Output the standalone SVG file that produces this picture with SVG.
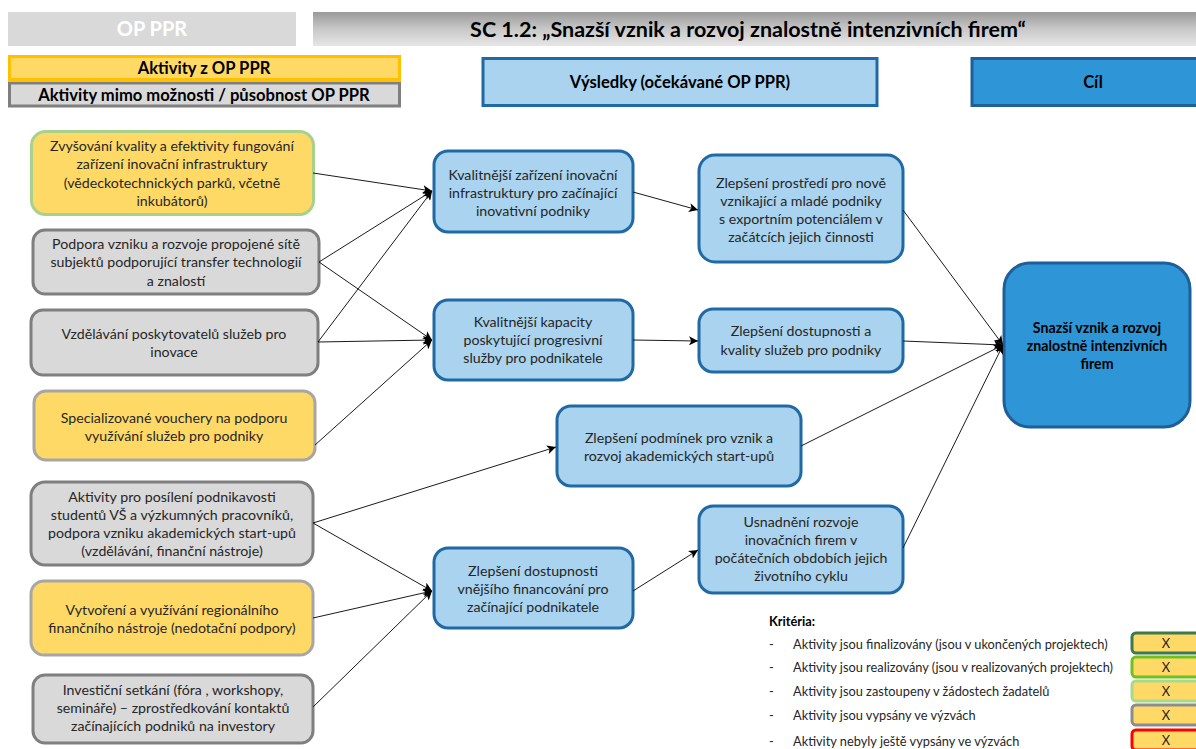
<svg xmlns="http://www.w3.org/2000/svg" width="1196" height="749" viewBox="0 0 1196 749">
<defs>
<linearGradient id="gHead" x1="0" y1="0" x2="0" y2="1">
<stop offset="0" stop-color="#9a9a9a"/>
<stop offset="0.5" stop-color="#c8c8c8"/>
<stop offset="1" stop-color="#e6e6e6"/>
</linearGradient>
<marker id="arr" viewBox="0 0 10 10" refX="10" refY="5" markerWidth="10" markerHeight="9" markerUnits="userSpaceOnUse" orient="auto">
<path d="M0,0 L10,5 L0,10 L2.5,5 Z" fill="#000"/>
</marker>
</defs>
<style>
text{font-family:Lato,"Liberation Sans",sans-serif;font-size:14.2px;fill:#262626;text-anchor:middle}
.b{font-weight:bold;fill:#000}
.hd{font-size:16.6px}
.yel{fill:#ffd966}
.gry{fill:#d9d9d9;stroke:#7f7f7f;stroke-width:3}
.blu{fill:#a9d3ee;stroke:#1f6aa5;stroke-width:3}
.goal{fill:#2e95d6;stroke:#1f5f99;stroke-width:3}
.con line{stroke:#1a1a1a;stroke-width:1;marker-end:url(#arr)}
.leg text{font-size:12.8px;text-anchor:start}
.lb{fill:#ffd966;stroke-width:3}
</style>

<g id="header">
<rect x="8" y="12" width="288" height="34" fill="#d9d9d9"/>
<text x="152" y="36" class="b" style="fill:#fff;font-size:20px">OP PPR</text>
<rect x="313" y="12" width="883" height="34" fill="url(#gHead)"/>
<text x="748" y="37" class="b" style="font-size:21.5px">SC 1.2: „Snazší vznik a rozvoj znalostně intenzivních firem“</text>
</g>

<g id="legend-top">
<rect x="9.5" y="56.5" width="390" height="23" class="yel" stroke="#ffc000" stroke-width="3"/>
<text x="204" y="74" class="b hd">Aktivity z OP PPR</text>
<rect x="9.5" y="83" width="390" height="23" class="gry"/>
<text x="204" y="101" class="b hd">Aktivity mimo možnosti / působnost OP PPR</text>
</g>

<g id="col-vysledky">
<rect x="483" y="58.5" width="394" height="47" class="blu"/>
<text x="680" y="88" class="b hd">Výsledky (očekávané OP PPR)</text>
</g>
<g id="col-cil">
<rect x="972" y="58.5" width="228" height="47" class="goal"/>
<text x="1093" y="88" class="b hd">Cíl</text>
</g>

<g id="n1">
<rect x="31.5" y="131.5" width="282" height="83" rx="14" class="yel" stroke="#a9d18e" stroke-width="3"/>
<text x="172" y="151">Zvyšování kvality a efektivity fungování</text>
<text x="172" y="169">zařízení inovační infrastruktury</text>
<text x="172" y="188">(vědeckotechnických parků, včetně</text>
<text x="172" y="206">inkubátorů)</text>
</g>
<g id="n2">
<rect x="33" y="230" width="286" height="64" rx="12" class="gry"/>
<text x="176" y="249">Podpora vzniku a rozvoje propojené sítě</text>
<text x="176" y="267">subjektů podporující transfer technologií</text>
<text x="176" y="286">a znalostí</text>
</g>
<g id="n3">
<rect x="31" y="310" width="287" height="65" rx="12" class="gry"/>
<text x="174" y="339">Vzdělávání poskytovatelů služeb pro</text>
<text x="174" y="357">inovace</text>
</g>
<g id="n4">
<rect x="34" y="391" width="281" height="69" rx="12" class="yel" stroke="#a6a6a6" stroke-width="3"/>
<text x="174" y="423">Specializované vouchery na podporu</text>
<text x="174" y="441">využívání služeb pro podniky</text>
</g>
<g id="n5">
<rect x="31" y="482" width="282" height="83" rx="14" class="gry"/>
<text x="172" y="502">Aktivity pro posílení podnikavosti</text>
<text x="172" y="520">studentů VŠ a výzkumných pracovníků,</text>
<text x="172" y="538">podpora vzniku akademických start-upů</text>
<text x="172" y="556">(vzdělávání, finanční nástroje)</text>
</g>
<g id="n6">
<rect x="31" y="581" width="282" height="74" rx="13" class="yel" stroke="#a6a6a6" stroke-width="3"/>
<text x="172" y="615">Vytvoření a využívání regionálního</text>
<text x="172" y="633">finančního nástroje (nedotační podpory)</text>
</g>
<g id="n7">
<rect x="33" y="675" width="280" height="68" rx="12" class="gry"/>
<text x="173" y="695">Investiční setkání (fóra , workshopy,</text>
<text x="173" y="713">semináře) – zprostředkování kontaktů</text>
<text x="173" y="731">začínajících podniků na investory</text>
</g>

<g id="r1">
<rect x="434" y="151" width="199" height="81" rx="14" class="blu"/>
<text x="533" y="180">Kvalitnější zařízení inovační</text>
<text x="533" y="198">infrastruktury pro začínající</text>
<text x="533" y="216">inovativní podniky</text>
</g>
<g id="r2">
<rect x="434" y="300" width="199" height="80" rx="14" class="blu"/>
<text x="533" y="327">Kvalitnější kapacity</text>
<text x="533" y="345">poskytující progresivní</text>
<text x="533" y="363">služby pro podnikatele</text>
</g>
<g id="r3">
<rect x="557" y="406" width="244" height="80" rx="14" class="blu"/>
<text x="679" y="443">Zlepšení podmínek pro vznik a</text>
<text x="679" y="461">rozvoj akademických start-upů</text>
</g>
<g id="r4">
<rect x="434" y="548" width="199" height="80" rx="14" class="blu"/>
<text x="533" y="576">Zlepšení dostupnosti</text>
<text x="533" y="594">vnějšího financování pro</text>
<text x="533" y="612">začínající podnikatele</text>
</g>
<g id="r5">
<rect x="699" y="155" width="204" height="107" rx="16" class="blu"/>
<text x="801" y="188">Zlepšení prostředí pro nově</text>
<text x="801" y="206">vznikající a mladé podniky</text>
<text x="801" y="224">s exportním potenciálem v</text>
<text x="801" y="242">začátcích jejich činnosti</text>
</g>
<g id="r6">
<rect x="699" y="309" width="204" height="63" rx="14" class="blu"/>
<text x="801" y="336">Zlepšení dostupnosti a</text>
<text x="801" y="355">kvality služeb pro podniky</text>
</g>
<g id="r7">
<rect x="699" y="506" width="204" height="87" rx="14" class="blu"/>
<text x="801" y="527">Usnadnění rozvoje</text>
<text x="801" y="545">inovačních firem v</text>
<text x="801" y="563">počátečních obdobích jejich</text>
<text x="801" y="581">životního cyklu</text>
</g>
<g id="goal">
<rect x="1004" y="263" width="186" height="164" rx="26" class="goal"/>
<text x="1097" y="333" class="b">Snazší vznik a rozvoj</text>
<text x="1097" y="351" class="b">znalostně intenzivních</text>
<text x="1097" y="369" class="b">firem</text>
</g>

<g id="connectors" class="con">
<line x1="313" y1="173" x2="432" y2="191"/>
<line x1="319" y1="262" x2="432" y2="191"/>
<line x1="319" y1="262" x2="432" y2="340"/>
<line x1="318" y1="342" x2="432" y2="191"/>
<line x1="318" y1="342" x2="432" y2="340"/>
<line x1="315" y1="445" x2="432" y2="340"/>
<line x1="313" y1="523" x2="556" y2="447"/>
<line x1="313" y1="523" x2="432" y2="591"/>
<line x1="313" y1="618" x2="432" y2="591"/>
<line x1="313" y1="707" x2="432" y2="591"/>
<line x1="633" y1="192" x2="698" y2="210"/>
<line x1="633" y1="340" x2="698" y2="341"/>
<line x1="633" y1="591" x2="698" y2="550"/>
<line x1="903" y1="210" x2="1003" y2="345"/>
<line x1="903" y1="341" x2="1003" y2="345"/>
<line x1="801" y1="446" x2="1003" y2="345"/>
<line x1="903" y1="548" x2="1003" y2="345"/>
</g>

<g id="criteria" class="leg">
<text x="769" y="626" class="b">Kritéria:</text>
<text x="769" y="649">-</text><text x="793" y="649">Aktivity jsou finalizovány (jsou v ukončených projektech)</text>
<text x="769" y="672">-</text><text x="793" y="672">Aktivity jsou realizovány (jsou v realizovaných projektech)</text>
<text x="769" y="696">-</text><text x="793" y="696">Aktivity jsou zastoupeny v žádostech žadatelů</text>
<text x="769" y="720">-</text><text x="793" y="720">Aktivity jsou vypsány ve výzvách</text>
<text x="769" y="746">-</text><text x="793" y="746">Aktivity nebyly ještě vypsány ve výzvách</text>
<rect x="1132" y="633" width="70" height="20" rx="4" class="lb" stroke="#3a7a4c"/>
<text x="1166" y="648" style="text-anchor:middle">X</text>
<rect x="1132" y="657" width="70" height="20" rx="4" class="lb" stroke="#70c020"/>
<text x="1166" y="672" style="text-anchor:middle">X</text>
<rect x="1132" y="681" width="70" height="20" rx="4" class="lb" stroke="#a9d98e"/>
<text x="1166" y="696" style="text-anchor:middle">X</text>
<rect x="1132" y="705" width="70" height="20" rx="4" class="lb" stroke="#8c8c8c"/>
<text x="1166" y="720" style="text-anchor:middle">X</text>
<rect x="1132" y="730" width="70" height="20" rx="4" class="lb" stroke="#ff0000"/>
<text x="1166" y="745" style="text-anchor:middle">X</text>
</g>
</svg>
